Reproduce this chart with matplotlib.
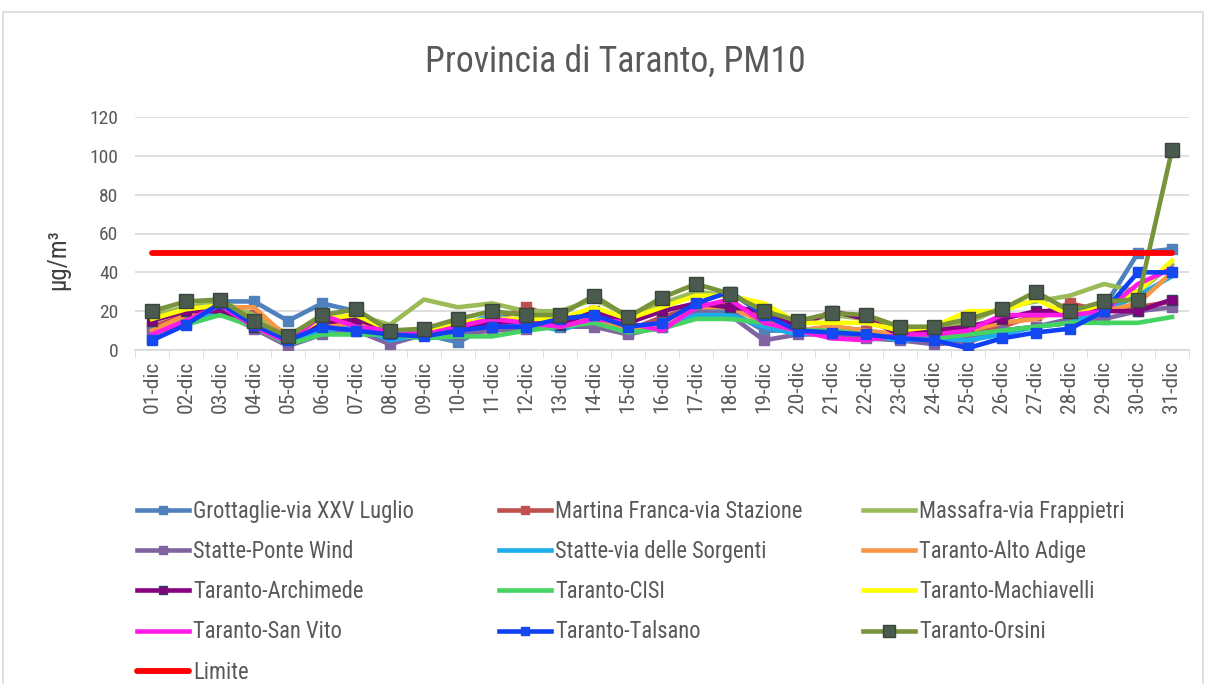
import numpy as np
import matplotlib.pyplot as plt
from matplotlib import font_manager
from matplotlib.patches import Rectangle

# font stretto se disponibile, altrimenti Liberation Sans
nomi = {f.name for f in font_manager.fontManager.ttflist}
font = 'Liberation Sans'
for f in ['Liberation Sans Narrow', 'Roboto Condensed', 'Open Sans Condensed']:
    if f in nomi:
        font = f
        break
plt.rcParams['font.family'] = [font, 'DejaVu Sans']
stretto = font != 'Liberation Sans'
k = 1.12 if stretto else 1.0

# dati (µg/m3, 1-31 dicembre)
giorni = ["%02d-dic" % d for d in range(1, 32)]

grottaglie = [6, 14, 25, 25, 15, 24, 20, 8, 8, 4, 13, 14, 17, 15, 10, 12, 20, 20, 10, 10, 8, 10, 6, 6, 7, 10, 12, 14, 22, 50, 52]
martina = [12, 18, 22, 18, 5, 12, 14, 9, 10, 12, 15, 22, 16, 18, 10, 17, 22, 24, 17, 10, 12, 10, 7, 8, 10, 12, 18, 24, 20, 22, 25]
massafra = [18, 22, 25, 18, 8, 16, 18, 13, 26, 22, 24, 20, 20, 26, 18, 24, 30, 28, 22, 14, 18, 16, 10, 10, 14, 22, 25, 28, 34, 30, 44]
statte_ponte = [10, 16, 20, 11, 2, 8, 10, 3, 8, 8, 10, 11, 12, 12, 8, 12, 20, 18, 5, 8, 8, 6, 5, 3, 4, 10, 12, 16, 16, 20, 22]
statte_sorgenti = [8, 15, 20, 14, 4, 10, 12, 5, 8, 12, 18, 14, 10, 16, 10, 12, 18, 18, 12, 8, 10, 8, 5, 6, 5, 8, 12, 14, 20, 28, 38]
alto_adige = [10, 18, 22, 22, 6, 12, 14, 8, 10, 12, 16, 16, 14, 16, 10, 14, 22, 22, 14, 10, 12, 10, 8, 8, 10, 14, 16, 22, 20, 24, 40]
archimede = [15, 20, 20, 12, 6, 14, 16, 10, 9, 12, 14, 15, 13, 20, 14, 20, 24, 22, 20, 12, 20, 16, 8, 10, 12, 16, 20, 20, 20, 20, 26]
cisi = [8, 13, 18, 12, 3, 8, 8, 8, 6, 7, 7, 10, 12, 14, 9, 11, 16, 16, 14, 10, 10, 8, 6, 6, 8, 10, 12, 14, 14, 14, 17]
machiavelli = [16, 21, 23, 14, 6, 16, 18, 10, 10, 14, 16, 16, 16, 22, 16, 22, 28, 28, 24, 14, 14, 14, 10, 12, 20, 20, 26, 18, 24, 30, 46]
san_vito = [8, 15, 23, 12, 4, 18, 12, 10, 8, 12, 16, 14, 12, 16, 14, 10, 22, 26, 14, 10, 6, 5, 8, 8, 10, 18, 18, 18, 20, 34, 42]
talsano = [5, 13, 24, 13, 5, 12, 10, 8, 7, 10, 12, 12, 16, 18, 12, 14, 24, 30, 18, 10, 9, 8, 6, 5, 1, 6, 9, 11, 20, 40, 40]
orsini = [20, 25, 26, 15, 7, 18, 21, 10, 11, 16, 20, 18, 18, 28, 17, 27, 34, 29, 20, 15, 19, 18, 12, 12, 16, 21, 30, 20, 25, 26, 103]
limite = [50] * 31

grigio = '#595959'

# nome, valori, colore linea, marker, colore marker
serie = [
    ("Grottaglie-via XXV Luglio", grottaglie, '#4F81BD', 's', '#4F81BD'),
    ("Martina Franca-via Stazione", martina, '#C0504D', 's', '#C0504D'),
    ("Massafra-via Frappietri", massafra, '#9BBB59', None, None),
    ("Statte-Ponte Wind", statte_ponte, '#8064A2', 's', '#8064A2'),
    ("Statte-via delle Sorgenti", statte_sorgenti, '#1AACEB', None, None),
    ("Taranto-Alto Adige", alto_adige, '#F79646', None, None),
    ("Taranto-Archimede", archimede, '#86007F', 's', '#86007F'),
    ("Taranto-CISI", cisi, '#45D462', None, None),
    ("Taranto-Machiavelli", machiavelli, '#FFFF00', None, None),
    ("Taranto-San Vito", san_vito, '#FF1AE6', None, None),
    ("Taranto-Talsano", talsano, '#1040F5', 's', '#1448F0'),
    ("Taranto-Orsini", orsini, '#77933C', 's', '#4A5A4E'),
    ("Limite", limite, '#FF0000', None, None),
]

fig = plt.figure(figsize=(12.06, 6.84), dpi=100)

# cornice del grafico
fig.patches.append(Rectangle((3 / 1206, -0.05), 1200 / 1206, 1.05 - 12 / 684,
                             transform=fig.transFigure, fill=False,
                             edgecolor='#D9D9D9', lw=1.2))

ax = fig.add_axes([135 / 1206, 1 - 350 / 684, 1054 / 1206, 233 / 684])
x = np.arange(len(giorni))

handles = []
for i, (nome, val, col, mk, mcol) in enumerate(serie):
    if nome == "Limite":
        h, = ax.plot(x, val, color=col, lw=4.2, solid_capstyle='round', zorder=20, label=nome)
    elif mk:
        ms = 10 if nome == "Taranto-Orsini" else 7.5
        mec = '#3A463C' if nome == "Taranto-Orsini" else ('#2F3F5F' if nome == "Taranto-Archimede" else mcol)
        h, = ax.plot(x, val, color=col, lw=3.3, marker=mk, ms=ms, mfc=mcol, mec=mec,
                     mew=1, zorder=5 + i, label=nome)
    else:
        h, = ax.plot(x, val, color=col, lw=3.3, zorder=5 + i, label=nome)
    handles.append(h)

ax.set_xlim(-0.5, 30.5)
ax.set_ylim(0, 120)
ax.set_yticks(range(0, 121, 20))
ax.set_xticks(x)
ax.set_xticklabels(giorni, rotation=90, fontsize=13.8 * k, color=grigio)
ax.set_xticks(np.arange(-0.5, 31, 1), minor=True)
ax.tick_params(axis='x', which='major', length=0, pad=8)
ax.tick_params(axis='x', which='minor', length=6, color='#D9D9D9')
ax.tick_params(axis='y', length=0, labelsize=12.5 * k, labelcolor=grigio, pad=12)
ax.grid(axis='y', color='#D9D9D9', lw=1.2)
ax.set_axisbelow(True)
for s in ['top', 'right', 'left']:
    ax.spines[s].set_visible(False)
ax.spines['bottom'].set_color('#D9D9D9')
ax.spines['bottom'].set_linewidth(1.2)

ax.set_ylabel("µg/m³", fontsize=16 * k, color='#404040')
ax.yaxis.set_label_coords((70 - 135) / 1054, (350 - 260) / 233)
fig.text(615 / 1206, 1 - 62 / 684, "Provincia di Taranto, PM10", ha='center', va='center',
         fontsize=23 * k, color=grigio)

# legenda su tre colonne, riempita per righe
colonne_x = [137, 499, 863]
for c in range(3):
    idx = list(range(c, len(handles), 3))
    fig.legend([handles[j] for j in idx], [serie[j][0] for j in idx],
               loc='upper left', bbox_to_anchor=(colonne_x[c] / 1206, 1 - 500 / 684),
               frameon=False, fontsize=14.5 * k, labelcolor=grigio, handlelength=2.3,
               handletextpad=0.2, labelspacing=0.76, borderpad=0, borderaxespad=0,
               markerscale=0.8)

fig.savefig("out.png", dpi=100)
